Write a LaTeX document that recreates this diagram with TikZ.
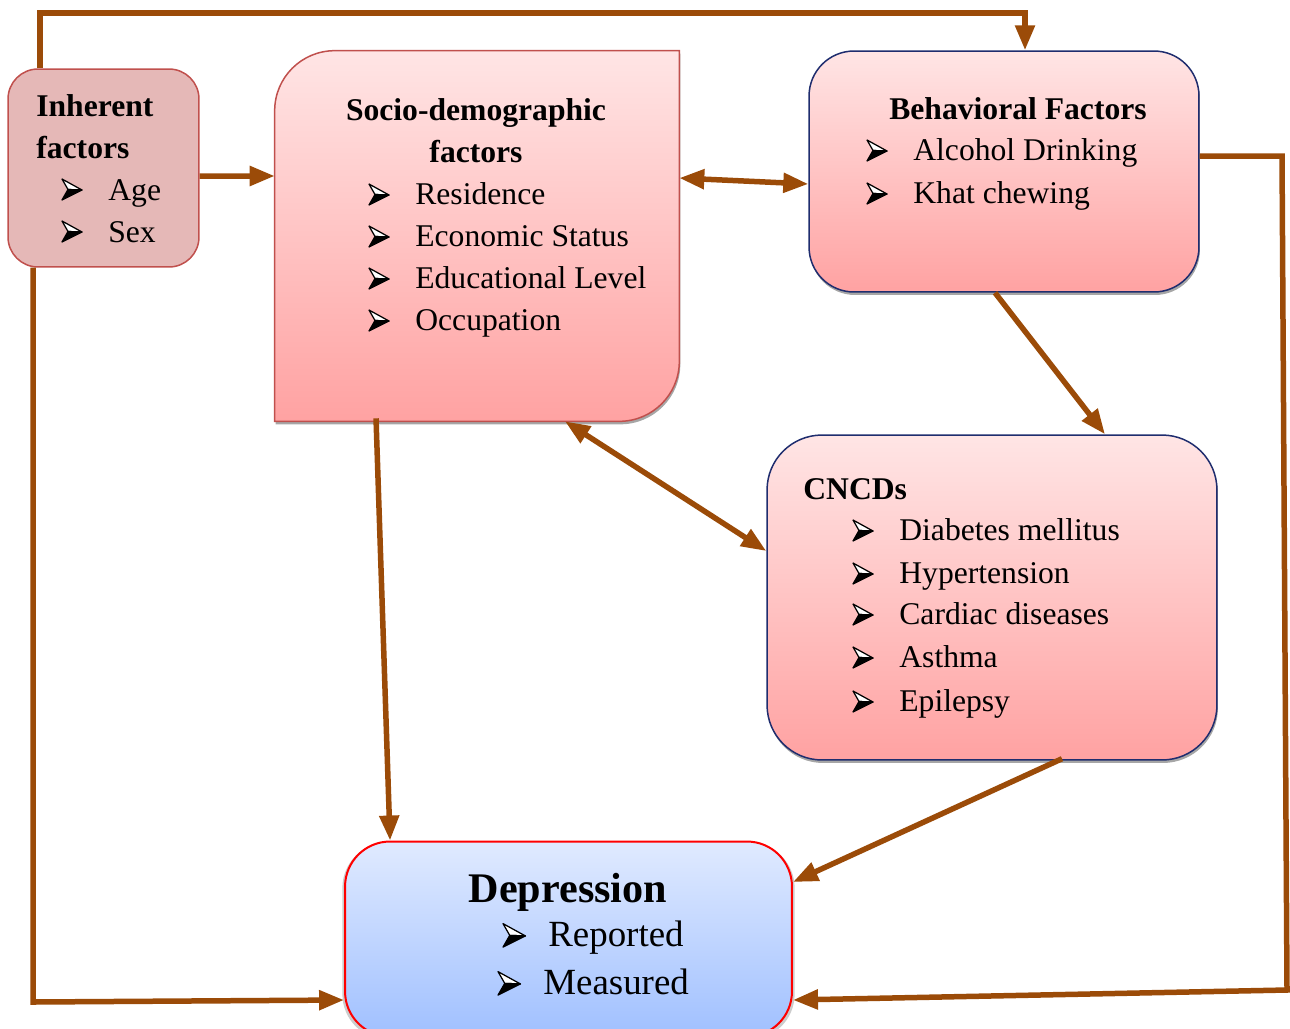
\documentclass[tikz,border=0pt]{standalone}
\usepackage{fontspec}
\setmainfont{Liberation Serif}
\usetikzlibrary{arrows.meta,shadows,calc}
\definecolor{arrc}{RGB}{155,75,8}
\definecolor{redb}{RGB}{192,80,77}
\definecolor{navyb}{RGB}{31,45,110}
\definecolor{inhf}{RGB}{229,184,183}
\definecolor{pinkt}{RGB}{255,229,229}
\definecolor{pinkb}{RGB}{255,162,162}
\definecolor{bluet}{RGB}{224,234,255}
\definecolor{blueb}{RGB}{160,192,255}
\tikzset{
  tip/.tip={Triangle[length=0.5cm,width=0.38cm]},
  conn/.style={line width=0.11cm, draw=arrc, line join=miter, -tip},
  twoway/.style={line width=0.11cm, draw=arrc, tip-tip},
  shad/.style={drop shadow={shadow xshift=0.02cm, shadow yshift=-0.06cm, fill=gray, opacity=0.7}},
  txt/.style={anchor=base west, inner sep=0, font=\fontsize{18}{22}\selectfont},
  ttl/.style={anchor=base west, inner sep=0, font=\fontsize{18}{22}\selectfont\bfseries},
  ttlc/.style={anchor=base, inner sep=0, font=\fontsize{18}{22}\selectfont\bfseries},
  dtxt/.style={anchor=base west, inner sep=0, font=\fontsize{21}{25}\selectfont},
  arrbul/.pic={
    \path[fill=white, draw=black, line width=0.025cm, line join=round]
      (0,-20) -- (20,-9) -- (6,-9.5) -- cycle;
    \path[fill=black, draw=black, line width=0.025cm, line join=round]
      (0,1) -- (20,-9) -- (6,-9.5) -- cycle;
  },
}
\begin{document}
\begin{tikzpicture}[x=0.02cm,y=-0.02cm]
\useasboundingbox (0,0) rectangle (1290,1028);

% ---------- boxes ----------
\node[draw=redb, line width=0.03cm, fill=inhf, rounded corners=0.6cm,
      minimum width=3.82cm, minimum height=3.96cm, inner sep=0] (inh) at (103.5,168) {};

\node[inner sep=0, minimum width=8.08cm, minimum height=7.4cm] (soc) at (477,236) {};
\path[shad, draw=redb, line width=0.03cm, top color=pinkt, bottom color=pinkb]
  (soc.south west) -- ([yshift=-1.2cm]soc.north west)
  arc[start angle=180, end angle=90, radius=1.2cm]
  -- (soc.north east) -- ([yshift=1.2cm]soc.south east)
  arc[start angle=0, end angle=-90, radius=1.2cm] -- cycle;

\node[shad, draw=navyb, line width=0.03cm, top color=pinkt, bottom color=pinkb,
      rounded corners=0.9cm, minimum width=7.8cm, minimum height=4.82cm, inner sep=0]
      (beh) at (1004,171.5) {};

\node[shad, draw=navyb, line width=0.03cm, top color=pinkt, bottom color=pinkb,
      rounded corners=1.1cm, minimum width=9cm, minimum height=6.5cm, inner sep=0]
      (cn) at (992,597.5) {};

\node[drop shadow={shadow xshift=0cm, shadow yshift=-0.04cm, shadow scale=1.012, fill=gray!80},
      draw=red, line width=0.04cm, top color=bluet, bottom color=blueb,
      rounded corners=0.9cm, minimum width=8.94cm, minimum height=3.9cm, inner sep=0]
      (dep) at (568.5,939) {};

% ---------- texts ----------
\node[ttl] (i1) at (36,116) {Inherent};
\node[ttl] (i2) at (36,158) {factors};
\pic at (62,199) {arrbul};
\node[txt] (i3) at (108,200) {Age};
\pic at (62,241) {arrbul};
\node[txt] (i4) at (108,242) {Sex};

\node[ttlc] (s1) at (476,120) {Socio-demographic};
\node[ttlc] (s2) at (476,162) {factors};
\pic at (369,204) {arrbul};
\node[txt] (s3) at (415,204) {Residence};
\pic at (369,246) {arrbul};
\node[txt] (s4) at (415,246) {Economic Status};
\pic at (369,288) {arrbul};
\node[txt] (s5) at (415,288) {Educational Level};
\pic at (369,330) {arrbul};
\node[txt] (s6) at (415,330) {Occupation};

\node[ttlc] (b1) at (1018,119) {Behavioral Factors};
\pic at (867,160) {arrbul};
\node[txt] (b2) at (913,160) {Alcohol Drinking};
\pic at (867,203) {arrbul};
\node[txt] (b3) at (913,203) {Khat chewing};

\node[ttl] (c1t) at (803,499) {CNCDs};
\pic at (853,540) {arrbul};
\node[txt] (c2t) at (899,540) {Diabetes mellitus};
\pic at (853,583) {arrbul};
\node[txt] (c3t) at (899,583) {Hypertension};
\pic at (853,624) {arrbul};
\node[txt] (c4t) at (899,624) {Cardiac diseases};
\pic at (853,667) {arrbul};
\node[txt] (c5t) at (899,667) {Asthma};
\pic at (853,711) {arrbul};
\node[txt] (c6t) at (899,711) {Epilepsy};

\node[anchor=base, inner sep=0, font=\fontsize{24}{28}\selectfont\bfseries] (d1) at (568,902) {Depression};
\pic[scale=1.12] at (503,946) {arrbul};
\node[dtxt] (d2) at (548,946) {Reported};
\pic[scale=1.12] at (498,994) {arrbul};
\node[dtxt] (d3) at (543,994) {Measured};

% ---------- connectors ----------
\coordinate (k1) at (40,13);
\coordinate (k2) at (1025,13);
\coordinate (k3) at (33,1002);
\coordinate (k4) at (1282,156);
\coordinate (k5) at (1287,990);

\draw[conn] (inh.north west -| k1) -- (k1) -- (k2) -- (beh.north -| k2);
\draw[conn] ([yshift=-0.16cm]inh.east) -- (soc.west |- 0,176);
\draw[conn] (inh.south west -| k3) -- (k3) -- (dep.west |- 0,1000);
\draw[twoway] ([yshift=1.16cm]soc.east) -- ([yshift=-0.25cm]beh.west);
\draw[conn] ([xshift=-0.18cm]beh.south) -- ([xshift=2.26cm]cn.north);
\draw[twoway] ([xshift=1.76cm]soc.south) -- ([yshift=0.93cm]cn.west);
\draw[conn] ([xshift=-2.02cm,yshift=0.06cm]soc.south) -- ([xshift=-3.57cm]dep.north);
\draw[conn] ([xshift=1.4cm,yshift=0.04cm]cn.south) -- ([yshift=1.14cm]dep.east);
\draw[conn] (beh.east |- k4) -- (k4) -- (k5) -- ([yshift=-1.22cm]dep.east);
\end{tikzpicture}
\end{document}
